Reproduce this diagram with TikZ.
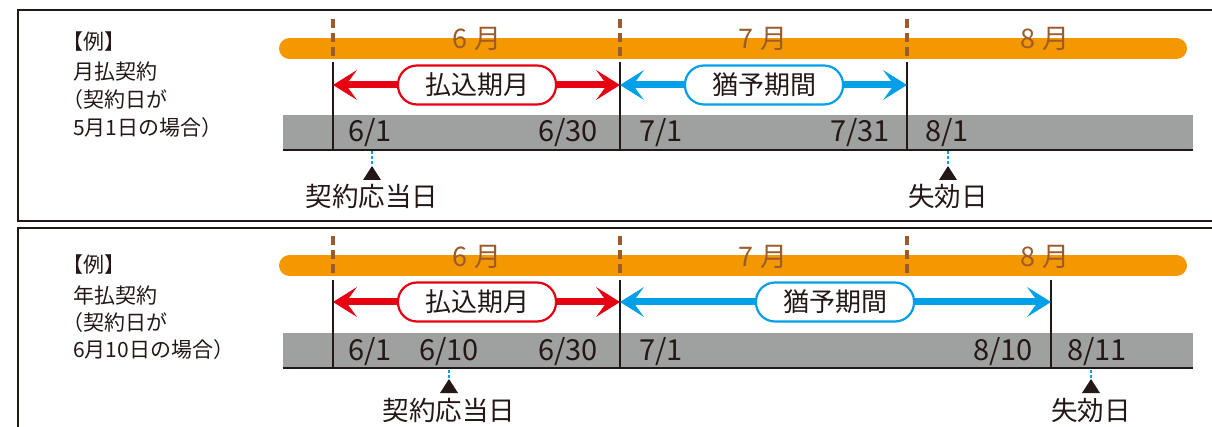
\documentclass[tikz,border=0pt]{standalone}
\usepackage{fontspec}
\setmainfont{Noto Sans CJK JP}
\usetikzlibrary{arrows.meta}
\definecolor{orng}{HTML}{F39800}
\definecolor{brn}{HTML}{9C5B2C}
\definecolor{rd}{HTML}{E60012}
\definecolor{bl}{HTML}{00A0E9}
\definecolor{gry}{HTML}{9FA0A0}
\definecolor{ink}{HTML}{231815}
\tikzset{
 frame/.style={draw=ink,line width=2pt},
 monthbar/.style={orng,line width=21pt,line cap=round},
 divider/.style={brn,line width=3.5pt,dash pattern=on 9pt off 5pt},
 vline/.style={ink,line width=2.5pt},
 band/.style={fill=gry},
 baseline/.style={ink,line width=2.5pt},
 monthlbl/.style={text=brn,font=\fontsize{27}{27}\selectfont,inner sep=0},
 datelbl/.style={text=ink,font=\fontsize{29}{29}\selectfont,inner sep=0},
 pill/.style={draw=#1,fill=white,line width=2.2pt,rounded corners=19pt,minimum width=158pt,minimum height=39pt,inner sep=0,text=ink,font=\fontsize{26}{26}\selectfont},
 redarrow/.style={rd,line width=7pt,-{Stealth[length=24pt,width=30pt,inset=11pt,line width=0pt]}},
 bluearrow/.style={bl,line width=7pt,-{Stealth[length=24pt,width=30pt,inset=11pt,line width=0pt]}},
 tick/.style={bl,line width=1.5pt,dash pattern=on 3pt off 2pt},
 tri/.style={fill=ink},
 marklbl/.style={text=ink,font=\fontsize{26.5}{26.5}\selectfont,inner sep=0},
 note/.style={text=ink,font=\fontsize{21}{21}\selectfont,inner sep=0,anchor=west},
}
\begin{document}
\begin{tikzpicture}[x=1pt,y=-1pt]
\useasboundingbox (0,0) rectangle (1212,427);
% ---------------- panel 1 ----------------
\draw[frame] (1214,10) -- (18,10) -- (18,221) -- (1214,221);
\node[note] (a1) at (73,42) {\hspace*{-0.5em}【例】};
\node[note] (a2) at (73,72) {月払契約};
\node[note] (a3) at (73,100) {\hspace*{-0.5em}（契約日が};
\node[note] (a4) at (73,128) {5月1日の場合）};
\draw[monthbar] (289.5,48.5) -- (1176.5,48.5);
\foreach \x in {333,620,907} \draw[divider] (\x,19) -- (\x,59);
\node[monthlbl] (am6) at (477,39) {6 月};
\node[monthlbl] (am7) at (763,39) {7 月};
\node[monthlbl] (am8) at (1045,39) {8 月};
\fill[band] (283,115) rectangle (1193,150);
\draw[baseline] (283,150) -- (1193,150);
\foreach \x in {333,620,907} \draw[vline] (\x,62) -- (\x,150);
\coordinate (aL) at (333,85);
\coordinate (aM) at (620,85);
\coordinate (aR) at (907,85);
\node[pill=rd] (ap) at (477,85) {払込期月};
\node[pill=bl] (ag) at (764,85) {猶予期間};
\draw[redarrow] (ap.west) -- (aL);
\draw[redarrow] (ap.east) -- (aM);
\draw[bluearrow] (ag.west) -- (aM);
\draw[bluearrow] (ag.east) -- (aR);
\node[datelbl] (ad1) at (370,133) {6/1};
\node[datelbl] (ad2) at (568,133) {6/30};
\node[datelbl] (ad3) at (661,133) {7/1};
\node[datelbl] (ad4) at (860,133) {7/31};
\node[datelbl] (ad5) at (947,133) {8/1};
\coordinate (at1) at (372,151.5);
\coordinate (at2) at (372,166);
\draw[tick] (at1) -- (at2);
\fill[tri] (372,166) -- (381,180) -- (363,180) -- cycle;
\node[marklbl] (ak) at (372,196) {契約応当日};
\coordinate (au1) at (948,151.5);
\coordinate (au2) at (948,166);
\draw[tick] (au1) -- (au2);
\fill[tri] (948,166) -- (957,180) -- (939,180) -- cycle;
\node[marklbl] (as) at (948,196) {失効日};
% ---------------- panel 2 ----------------
\draw[frame] (1214,228) -- (18,228) -- (18,430);
\node[note] (b1) at (73,265) {\hspace*{-0.5em}【例】};
\node[note] (b2) at (73,295) {年払契約};
\node[note] (b3) at (73,323) {\hspace*{-0.5em}（契約日が};
\node[note] (b4) at (73,350) {6月10日の場合）};
\draw[monthbar] (289.5,265.5) -- (1176.5,265.5);
\foreach \x in {333,620,907} \draw[divider] (\x,236) -- (\x,276);
\node[monthlbl] (bm6) at (477,257) {6 月};
\node[monthlbl] (bm7) at (763,257) {7 月};
\node[monthlbl] (bm8) at (1045,257) {8 月};
\fill[band] (283,333) rectangle (1193,368);
\draw[baseline] (283,368) -- (1193,368);
\foreach \x in {333,620,1051} \draw[vline] (\x,280) -- (\x,368);
\coordinate (bL) at (333,302);
\coordinate (bM) at (620,302);
\coordinate (bR) at (1051,302);
\node[pill=rd] (bp) at (477,302) {払込期月};
\node[pill=bl] (bg) at (835,302) {猶予期間};
\draw[redarrow] (bp.west) -- (bL);
\draw[redarrow] (bp.east) -- (bM);
\draw[bluearrow] (bg.west) -- (bM);
\draw[bluearrow] (bg.east) -- (bR);
\node[datelbl] (bd1) at (370,352) {6/1};
\node[datelbl] (bd2) at (449,352) {6/10};
\node[datelbl] (bd3) at (568,352) {6/30};
\node[datelbl] (bd4) at (661,352) {7/1};
\node[datelbl] (bd5) at (1003,352) {8/10};
\node[datelbl] (bd6) at (1097,352) {8/11};
\coordinate (bt1) at (449,369.5);
\coordinate (bt2) at (449,379);
\draw[tick] (bt1) -- (bt2);
\fill[tri] (449,379) -- (458,393) -- (440,393) -- cycle;
\node[marklbl] (bk) at (449,410) {契約応当日};
\coordinate (bu1) at (1091,369.5);
\coordinate (bu2) at (1091,379);
\draw[tick] (bu1) -- (bu2);
\fill[tri] (1091,379) -- (1100,393) -- (1082,393) -- cycle;
\node[marklbl] (bs) at (1091,410) {失効日};
\end{tikzpicture}
\end{document}
